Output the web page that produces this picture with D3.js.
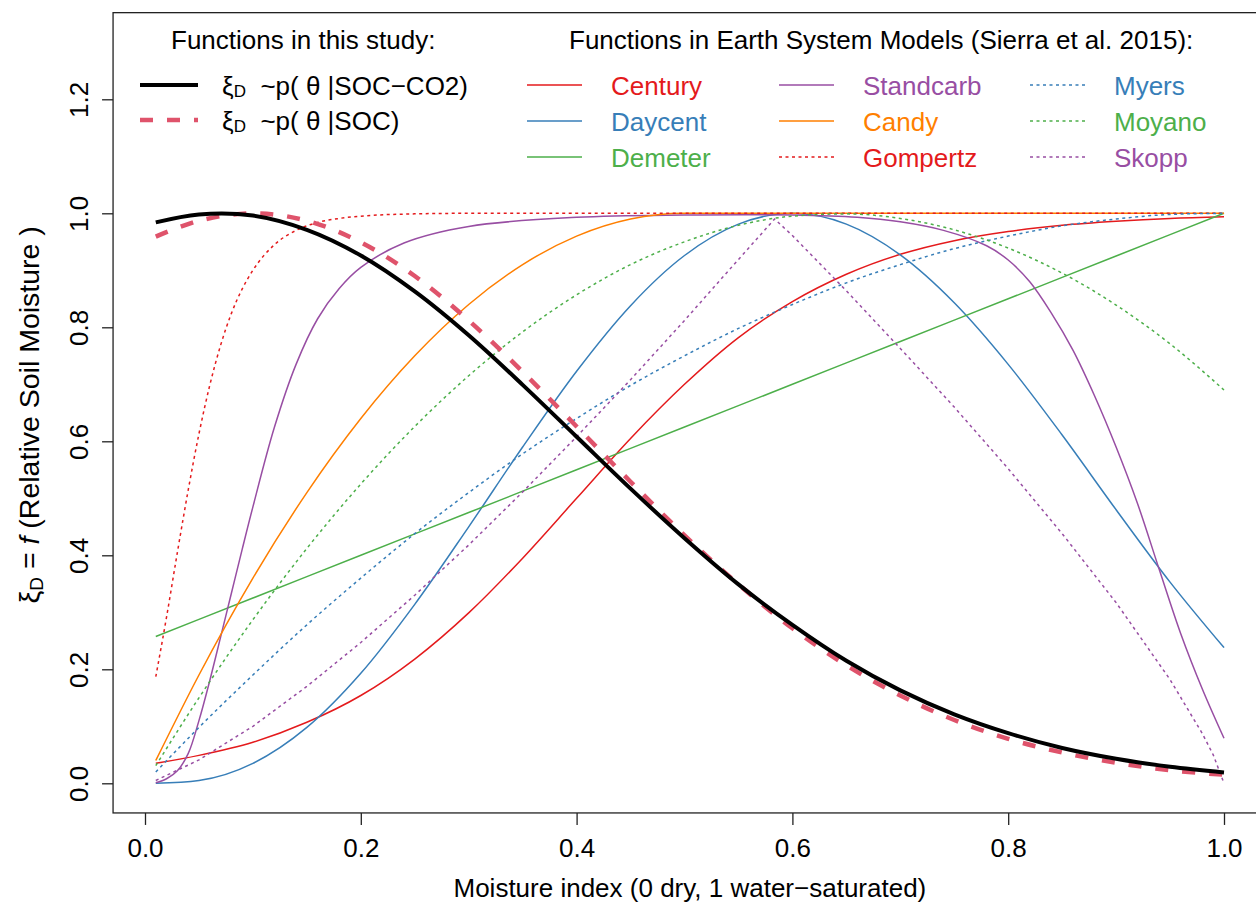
<!DOCTYPE html>
<html>
<head>
<meta charset="utf-8">
<script src="https://cdn.jsdelivr.net/npm/d3@7"></script>
<style>
  body { margin: 0; background: #fff; }
  svg { font-family: "Liberation Sans", Arial, sans-serif; }
</style>
</head>
<body>
<div id="chart"></div>
<script>
// moisture grid shared by most curves
const moist = [0.01, 0.05, 0.1, 0.15, 0.2, 0.25, 0.3, 0.35, 0.4, 0.45, 0.5,
               0.55, 0.6, 0.65, 0.7, 0.75, 0.8, 0.85, 0.9, 0.95, 1.0];

// functions in this study
const socCO2 = [0.984, 0.998, 0.996, 0.971, 0.926, 0.863, 0.786, 0.699, 0.608, 0.517, 0.430,
                0.349, 0.278, 0.215, 0.163, 0.121, 0.088, 0.062, 0.043, 0.029, 0.019];
const soc    = [0.959, 0.987, 1.0, 0.987, 0.949, 0.890, 0.812, 0.722, 0.626, 0.529, 0.435,
                0.349, 0.272, 0.207, 0.154, 0.111, 0.078, 0.054, 0.036, 0.023, 0.015];

// functions in Earth System Models
const century = [0.035, 0.049, 0.072, 0.107, 0.154, 0.218, 0.299, 0.395, 0.500, 0.605, 0.700,
                 0.782, 0.845, 0.893, 0.928, 0.952, 0.968, 0.979, 0.986, 0.991, 0.994];
const daycent = [0.0, 0.005, 0.035, 0.098, 0.193, 0.314, 0.450, 0.590, 0.723, 0.838, 0.926,
                 0.981, 1.0, 0.981, 0.927, 0.843, 0.735, 0.611, 0.480, 0.353, 0.238];
const demeter = [0.2575, 0.2875, 0.325, 0.3625, 0.4, 0.4375, 0.475, 0.5125, 0.55, 0.5875, 0.625,
                 0.6625, 0.7, 0.7375, 0.775, 0.8125, 0.85, 0.8875, 0.925, 0.9625, 1.0];
const candy   = [0.040, 0.19, 0.36, 0.51, 0.64, 0.75, 0.84, 0.91, 0.96, 0.99, 1.0,
                 1.0, 1.0, 1.0, 1.0, 1.0, 1.0, 1.0, 1.0, 1.0, 1.0];
const myers   = [0.020, 0.098, 0.19, 0.278, 0.36, 0.438, 0.51, 0.578, 0.64, 0.698, 0.75,
                 0.798, 0.84, 0.878, 0.91, 0.938, 0.96, 0.978, 0.99, 0.998, 1.0];
const moyano  = [0.031, 0.150, 0.287, 0.412, 0.525, 0.626, 0.715, 0.792, 0.857, 0.910, 0.950,
                 0.979, 0.995, 0.999, 0.991, 0.971, 0.939, 0.895, 0.839, 0.771, 0.690];

const standcarbX = [0.01, 0.02, 0.03, 0.04, 0.05, 0.06, 0.07, 0.08, 0.09, 0.1, 0.12, 0.14, 0.16, 0.18,
                    0.2, 0.24, 0.3, 0.4, 0.5, 0.6, 0.66, 0.7, 0.74, 0.78, 0.8, 0.82, 0.84, 0.86,
                    0.88, 0.9, 0.92, 0.94, 0.96, 0.98, 1.0];
const standcarb  = [0.001, 0.008, 0.022, 0.052, 0.11, 0.18, 0.256, 0.333, 0.41, 0.485, 0.625, 0.735, 0.815, 0.868,
                    0.905, 0.948, 0.977, 0.993, 0.997, 0.997, 0.993, 0.985, 0.97, 0.943, 0.918, 0.88, 0.825, 0.76,
                    0.68, 0.59, 0.49, 0.375, 0.262, 0.165, 0.079];

const gompertzX = [0.01, 0.02, 0.03, 0.04, 0.05, 0.06, 0.07, 0.08, 0.09, 0.1,
                   0.12, 0.14, 0.16, 0.18, 0.2, 0.25, 0.3, 0.4, 1.0];
const gompertz  = [0.187, 0.292, 0.405, 0.514, 0.613, 0.698, 0.768, 0.824, 0.867, 0.900,
                   0.945, 0.970, 0.984, 0.991, 0.995, 0.999, 1.0, 1.0, 1.0];

const skoppX = [0.01, 0.05, 0.1, 0.15, 0.2, 0.25, 0.3, 0.35, 0.4, 0.45, 0.5, 0.55, 0.5835,
                0.6, 0.65, 0.7, 0.75, 0.8, 0.85, 0.9, 0.95, 0.98, 0.99, 1.0];
const skopp  = [0.005, 0.041, 0.100, 0.170, 0.247, 0.330, 0.418, 0.511, 0.608, 0.708, 0.812, 0.919, 0.99,
                0.961, 0.864, 0.763, 0.660, 0.552, 0.438, 0.317, 0.182, 0.087, 0.050, 0.0];

const xTicks = [0, 0.2, 0.4, 0.6, 0.8, 1.0];
const yTicks = [0, 0.2, 0.4, 0.6, 0.8, 1.0, 1.2];

const red = "#E41A1C", blue = "#377EB8", green = "#4DAF4A", purple = "#984EA3", orange = "#FF7F00";
const dotted = "3,3.5";
const smooth = d3.curveCatmullRom.alpha(0.5);

const esm = [
  {name: "Century",   x: moist,      y: century,   color: red,    dash: null,   curve: d3.curveMonotoneX},
  {name: "Daycent",   x: moist,      y: daycent,   color: blue,   dash: null,   curve: d3.curveMonotoneX},
  {name: "Demeter",   x: moist,      y: demeter,   color: green,  dash: null,   curve: d3.curveLinear},
  {name: "Standcarb", x: standcarbX, y: standcarb, color: purple, dash: null,   curve: smooth},
  {name: "Candy",     x: moist,      y: candy,     color: orange, dash: null,   curve: d3.curveMonotoneX},
  {name: "Gompertz",  x: gompertzX,  y: gompertz,  color: red,    dash: dotted, curve: d3.curveMonotoneX},
  {name: "Myers",     x: moist,      y: myers,     color: blue,   dash: dotted, curve: d3.curveMonotoneX},
  {name: "Moyano",    x: moist,      y: moyano,    color: green,  dash: dotted, curve: d3.curveMonotoneX},
  {name: "Skopp",     x: skoppX,     y: skopp,     color: purple, dash: dotted, curve: d3.curveLinear}
];

const width = 1256, height = 907;
const svg = d3.select("#chart").append("svg")
  .attr("width", width)
  .attr("height", height);

const x = d3.scaleLinear().domain([0, 1]).range([145, 1224]);
const y = d3.scaleLinear().domain([0, 1]).range([783.3, 213.3]);

// plot box (R pads the range by 4%)
const boxL = x(-0.0296), boxR = x(1.0396), boxT = y(1.352), boxB = y(-0.052);
svg.append("rect")
  .attr("x", boxL).attr("y", boxT)
  .attr("width", boxR - boxL).attr("height", boxB - boxT)
  .attr("fill", "none").attr("stroke", "#222").attr("stroke-width", 1.3);

// x axis
const gx = svg.append("g").attr("transform", "translate(0," + boxB + ")")
  .call(d3.axisBottom(x).tickValues(xTicks).tickSize(12).tickPadding(0).tickFormat(d3.format(".1f")));
gx.select(".domain").remove();
gx.selectAll("line").attr("stroke", "#222").attr("stroke-width", 1.3);
gx.selectAll("text").attr("font-size", 26).attr("fill", "#000")
  .attr("font-family", "Liberation Sans, Arial, sans-serif")
  .attr("dy", null).attr("y", 44);

// y axis
const gy = svg.append("g").attr("transform", "translate(" + boxL + ",0)")
  .call(d3.axisLeft(y).tickValues(yTicks).tickSize(11).tickFormat(d3.format(".1f")));
gy.select(".domain").remove();
gy.selectAll("line").attr("stroke", "#222").attr("stroke-width", 1.3);
gy.selectAll("text").attr("font-size", 26).attr("fill", "#000")
  .attr("font-family", "Liberation Sans, Arial, sans-serif")
  .attr("text-anchor", "middle").attr("dy", null)
  .attr("x", 0).attr("y", -25).attr("transform", "rotate(-90)");

// axis titles
svg.append("text")
  .attr("x", (boxL + boxR) / 2).attr("y", 897)
  .attr("text-anchor", "middle").attr("font-size", 26)
  .text("Moisture index (0 dry, 1 water\u2212saturated)");

const yt = svg.append("text")
  .attr("transform", "translate(39," + ((boxT + boxB) / 2 + 2) + ") rotate(-90)")
  .attr("text-anchor", "middle").attr("font-size", 28.5);
yt.append("tspan").text("\u03BE");
yt.append("tspan").attr("font-size", 19).attr("dy", 4).text("D");
yt.append("tspan").attr("dy", -4).text("\u00A0=\u00A0");
yt.append("tspan").attr("font-style", "italic").text("f");
yt.append("tspan").text("\u00A0(Relative Soil Moisture\u00A0)");

// curves
const line = (xs, curve) => d3.line()
  .x((d, i) => x(xs[i]))
  .y(d => y(d))
  .curve(curve);

esm.forEach(s => {
  svg.append("path")
    .attr("d", line(s.x, s.curve)(s.y))
    .attr("fill", "none")
    .attr("stroke", s.color)
    .attr("stroke-width", 1.5)
    .attr("stroke-dasharray", s.dash);
});

svg.append("path")
  .attr("d", line(moist, smooth)(soc))
  .attr("fill", "none").attr("stroke", "#DF536B")
  .attr("stroke-width", 4.5).attr("stroke-dasharray", "13,14");

svg.append("path")
  .attr("d", line(moist, smooth)(socCO2))
  .attr("fill", "none").attr("stroke", "#000")
  .attr("stroke-width", 4);

// legend: functions in this study
svg.append("text").attr("x", 171).attr("y", 49).attr("font-size", 26)
  .text("Functions in this study:");

const study = [
  {label: "\u00A0~p(\u00A0\u03B8\u00A0|SOC\u2212CO2)", color: "#000", width: 4, dash: null, ry: 85},
  {label: "\u00A0~p(\u00A0\u03B8\u00A0|SOC)", color: "#DF536B", width: 4.5, dash: "13,14", ry: 120}
];
study.forEach(s => {
  svg.append("line")
    .attr("x1", 140).attr("x2", 198).attr("y1", s.ry).attr("y2", s.ry)
    .attr("stroke", s.color).attr("stroke-width", s.width)
    .attr("stroke-dasharray", s.dash);
  const t = svg.append("text").attr("x", 222).attr("y", s.ry + 9.5).attr("font-size", 26);
  t.append("tspan").text("\u03BE");
  t.append("tspan").attr("font-size", 17).attr("dy", 2).text("D");
  t.append("tspan").attr("dy", -2).text("\u00A0" + s.label);
});

// legend: ESM functions
svg.append("text").attr("x", 569).attr("y", 49).attr("font-size", 26)
  .text("Functions in Earth System Models (Sierra et al. 2015):");

const colX = [527, 779, 1030];
const rowY = [85, 121, 157];
esm.forEach((s, i) => {
  const cx = colX[Math.floor(i / 3)], ry = rowY[i % 3];
  svg.append("line")
    .attr("x1", cx).attr("x2", cx + 55).attr("y1", ry).attr("y2", ry)
    .attr("stroke", s.color).attr("stroke-width", 1.5)
    .attr("stroke-dasharray", s.dash);
  svg.append("text")
    .attr("x", cx + 84).attr("y", ry + 9.5)
    .attr("font-size", 26).attr("fill", s.color)
    .text(s.name);
});
</script>
</body>
</html>
